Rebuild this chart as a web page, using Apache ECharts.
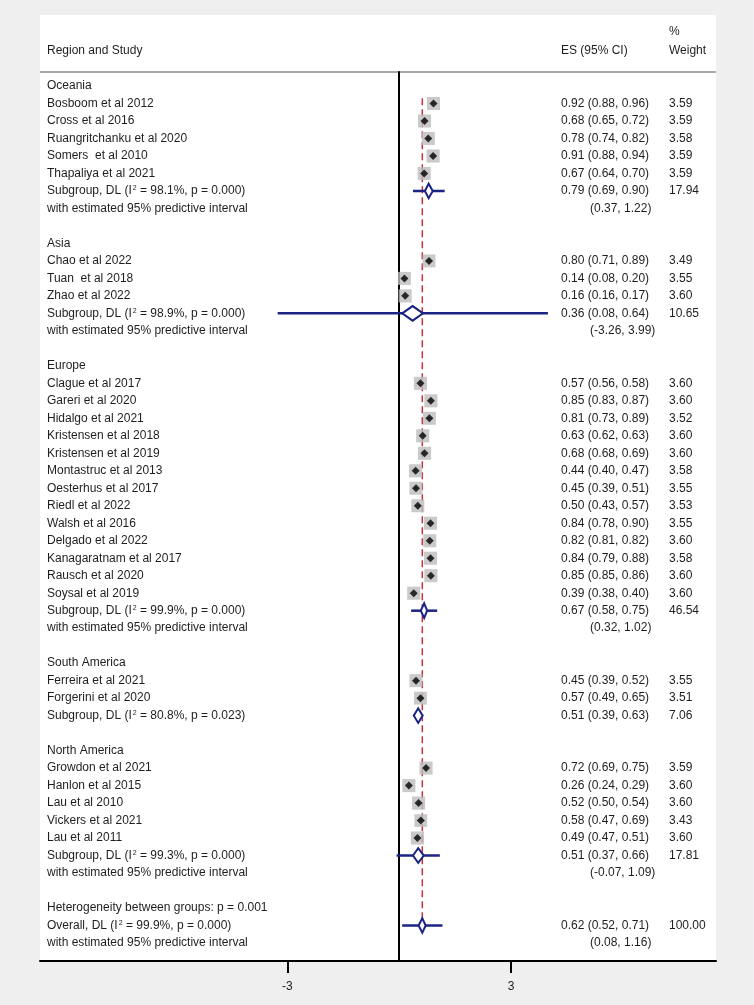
<!DOCTYPE html>
<html lang="en">
<head>
<meta charset="UTF-8">
<title>Forest plot</title>
<script src="https://cdn.jsdelivr.net/npm/echarts@6/dist/echarts.min.js"></script>
<style>
    html, body { margin: 0; padding: 0; background: #efefef; }
    .plot { width: 754px; height: 1005px; }
</style>
</head>
<body>
<div class="plot"></div>
<script>
    // regions, in the order they are listed
    var regions = ['Oceania', 'Asia', 'Europe', 'South America', 'North America']

    // single studies
    var studyNames = [
        'Bosboom et al 2012', 'Cross et al 2016', 'Ruangritchanku et al 2020', 'Somers  et al 2010', 'Thapaliya et al 2021',
        'Chao et al 2022', 'Tuan  et al 2018', 'Zhao et al 2022',
        'Clague et al 2017', 'Gareri et al 2020', 'Hidalgo et al 2021', 'Kristensen et al 2018', 'Kristensen et al 2019',
        'Montastruc et al 2013', 'Oesterhus et al 2017', 'Riedl et al 2022', 'Walsh et al 2016', 'Delgado et al 2022',
        'Kanagaratnam et al 2017', 'Rausch et al 2020', 'Soysal et al 2019',
        'Ferreira et al 2021', 'Forgerini et al 2020',
        'Growdon et al 2021', 'Hanlon et al 2015', 'Lau et al 2010', 'Vickers et al 2021', 'Lau et al 2011'
    ]
    var studyRegion = [0, 0, 0, 0, 0, 1, 1, 1, 2, 2, 2, 2, 2, 2, 2, 2, 2, 2, 2, 2, 2, 3, 3, 4, 4, 4, 4, 4]
    var studyES = [0.92, 0.68, 0.78, 0.91, 0.67, 0.80, 0.14, 0.16, 0.57, 0.85, 0.81, 0.63, 0.68, 0.44, 0.45, 0.50, 0.84, 0.82, 0.84, 0.85, 0.39, 0.45, 0.57, 0.72, 0.26, 0.52, 0.58, 0.49]
    var studyLo = [0.88, 0.65, 0.74, 0.88, 0.64, 0.71, 0.08, 0.16, 0.56, 0.83, 0.73, 0.62, 0.68, 0.40, 0.39, 0.43, 0.78, 0.81, 0.79, 0.85, 0.38, 0.39, 0.49, 0.69, 0.24, 0.50, 0.47, 0.47]
    var studyHi = [0.96, 0.72, 0.82, 0.94, 0.70, 0.89, 0.20, 0.17, 0.58, 0.87, 0.89, 0.63, 0.69, 0.47, 0.51, 0.57, 0.90, 0.82, 0.88, 0.86, 0.40, 0.52, 0.65, 0.75, 0.29, 0.54, 0.69, 0.51]
    var studyWeight = [3.59, 3.59, 3.58, 3.59, 3.59, 3.49, 3.55, 3.60, 3.60, 3.60, 3.52, 3.60, 3.60, 3.58, 3.55, 3.53, 3.55, 3.60, 3.58, 3.60, 3.60, 3.55, 3.51, 3.59, 3.60, 3.60, 3.43, 3.60]

    // pooled per region (DL)
    var subI2 = ['98.1%', '98.9%', '99.9%', '80.8%', '99.3%']
    var subP = ['0.000', '0.000', '0.000', '0.023', '0.000']
    var subES = [0.79, 0.36, 0.67, 0.51, 0.51]
    var subLo = [0.69, 0.08, 0.58, 0.39, 0.37]
    var subHi = [0.90, 0.64, 0.75, 0.63, 0.66]
    var subWeight = [17.94, 10.65, 46.54, 7.06, 17.81]
    var piLo = [0.37, -3.26, 0.32, null, -0.07]
    var piHi = [1.22, 3.99, 1.02, null, 1.09]

    // overall
    var hetP = '0.001'
    var overallI2 = '99.9%'
    var overallP = '0.000'
    var overallES = [0.62, 0.52, 0.71]   // es, lo, hi
    var overallPI = [0.08, 1.16]
    var overallWeight = 100

    var xTicks = [-3, 3]

    var font = 'Liberation Sans, Arial, sans-serif'
    var ink = '#1e1e1e'
    var navy = '#1b2383'

    function ci(a, b) {
        return '(' + a.toFixed(2) + ', ' + b.toFixed(2) + ')'
    }

    // build the table rows and the marks from the arrays above
    var rows = []
    var boxData = [], ciData = [], diamondData = []
    var piText = 'with estimated 95% predictive interval'

    regions.forEach(function (reg, r) {
        rows.push({ label: reg })
        studyNames.forEach(function (name, i) {
            if (studyRegion[i] !== r) return
            var y = rows.length
            rows.push({ label: name, es: studyES[i].toFixed(2) + ' ' + ci(studyLo[i], studyHi[i]), w: studyWeight[i].toFixed(2) })
            boxData.push([studyES[i], y, studyWeight[i]])
            ciData.push([studyLo[i], y, studyHi[i]])
        })
        var ys = rows.length
        rows.push({
            label: 'Subgroup, DL (I{sup|2} = ' + subI2[r] + ', p = ' + subP[r] + ')',
            es: subES[r].toFixed(2) + ' ' + ci(subLo[r], subHi[r]),
            w: subWeight[r].toFixed(2)
        })
        diamondData.push([subES[r], ys, subLo[r], subHi[r], piLo[r] == null ? '-' : piLo[r], piHi[r] == null ? '-' : piHi[r]])
        if (piLo[r] != null) rows.push({ label: piText, pi: ci(piLo[r], piHi[r]) })
        rows.push({ label: '' })
    })
    rows.push({ label: 'Heterogeneity between groups: p = ' + hetP })
    var yOverall = rows.length
    rows.push({
        label: 'Overall, DL (I{sup|2} = ' + overallI2 + ', p = ' + overallP + ')',
        es: overallES[0].toFixed(2) + ' ' + ci(overallES[1], overallES[2]),
        w: overallWeight.toFixed(2)
    })
    diamondData.push([overallES[0], yOverall, overallES[1], overallES[2], overallPI[0], overallPI[1]])
    rows.push({ label: piText, pi: ci(overallPI[0], overallPI[1]) })

    function idxWith(key) {
        var out = []
        rows.forEach(function (row, i) { if (row[key]) out.push(i) })
        return out
    }

    function textAxis(position, key, margin) {
        return {
            type: 'value', gridIndex: 0, position: position,
            min: -0.8005, max: 50.03, inverse: true,
            axisLine: { show: false, onZero: false },
            axisTick: { show: false },
            splitLine: { show: false },
            axisLabel: {
                inside: true, align: 'left', margin: margin,
                customValues: idxWith(key),
                formatter: function (v) { return rows[Math.round(v)][key] },
                color: ink, fontSize: 12, fontFamily: font,
                rich: { sup: { fontSize: 7, verticalAlign: 'top', padding: [0, 0, 5, 1], color: ink, fontFamily: font } }
            }
        }
    }

    function renderCI(params, api) {
        var a = api.coord([api.value(0), api.value(1)])
        var b = api.coord([api.value(2), api.value(1)])
        return { type: 'line', shape: { x1: a[0], y1: a[1], x2: b[0], y2: b[1] }, style: { stroke: '#000', lineWidth: 1 } }
    }

    function renderDiamond(params, api) {
        var y = api.value(1)
        var mid = api.coord([api.value(0), y])
        var lo = api.coord([api.value(2), y])
        var hi = api.coord([api.value(3), y])
        var h = 7.3
        var children = []
        if (!isNaN(api.value(4))) {
            var a = api.coord([api.value(4), y])
            var b = api.coord([api.value(5), y])
            children.push({ type: 'line', shape: { x1: a[0], y1: a[1], x2: b[0], y2: b[1] }, style: { stroke: navy, lineWidth: 2.5 } })
        }
        children.push({
            type: 'polygon',
            shape: { points: [[lo[0], mid[1]], [mid[0], mid[1] - h], [hi[0], mid[1]], [mid[0], mid[1] + h]] },
            style: { fill: '#fff', stroke: navy, lineWidth: 2 }
        })
        return { type: 'group', children: children }
    }

    var chart = echarts.init(document.querySelector('.plot'))

    var option = {
        animation: false,
        backgroundColor: '#efefef',
        grid: { left: 40, right: 38, top: 72, bottom: 44, containLabel: false, outerBoundsMode: 'none' },
        xAxis: [{
            type: 'value', gridIndex: 0, position: 'bottom',
            min: -9.635, max: 8.498,
            axisLine: { show: true, onZero: false, lineStyle: { color: '#000', width: 2 } },
            axisTick: { show: true, customValues: xTicks, length: 12, lineStyle: { color: '#000', width: 2 } },
            axisLabel: { customValues: xTicks, margin: 20, color: ink, fontSize: 12, fontFamily: font },
            splitLine: { show: false }
        }],
        yAxis: [
            {
                // the line at zero
                type: 'value', gridIndex: 0, min: -0.8005, max: 50.03, inverse: true,
                axisLine: { show: true, onZero: true, lineStyle: { color: '#000', width: 2 } },
                axisTick: { show: false }, axisLabel: { show: false }, splitLine: { show: false }
            },
            textAxis('left', 'label', 7),
            textAxis('right', 'es', 155),
            textAxis('right', 'pi', 126),
            textAxis('right', 'w', 47)
        ],
        graphic: [
            { type: 'rect', z: -10, shape: { x: 40, y: 15, width: 676, height: 946 }, style: { fill: '#fff' } },
            { type: 'line', shape: { x1: 40, y1: 72, x2: 716, y2: 72 }, style: { stroke: '#a8a8a8', lineWidth: 2 } },
            { type: 'text', x: 47, y: 51, style: { text: 'Region and Study', font: '12px ' + font, fill: ink, verticalAlign: 'middle' } },
            { type: 'text', x: 561, y: 51, style: { text: 'ES (95% CI)', font: '12px ' + font, fill: ink, verticalAlign: 'middle' } },
            { type: 'text', x: 669, y: 32, style: { text: '%', font: '12px ' + font, fill: ink, verticalAlign: 'middle' } },
            { type: 'text', x: 669, y: 51, style: { text: 'Weight', font: '12px ' + font, fill: ink, verticalAlign: 'middle' } }
        ],
        series: [
            {
                // overall effect reference line
                type: 'line', z: 1, symbol: 'none', silent: true,
                data: [[overallES[0], 0.7], [overallES[0], yOverall + 0.5]],
                lineStyle: { color: '#c8303c', width: 1.5, type: [7, 4] }
            },
            {
                type: 'custom', z: 2, renderItem: renderCI, data: ciData,
                encode: { x: [0, 2], y: 1 }
            },
            {
                type: 'scatter', z: 3, symbol: 'rect', data: boxData,
                symbolSize: function (v) { return 6.9 * Math.sqrt(v[2]) },
                itemStyle: { color: '#bdbdbd' }
            },
            {
                type: 'scatter', z: 4, symbol: 'diamond', symbolSize: 8, data: boxData,
                itemStyle: { color: '#000' }
            },
            {
                type: 'custom', z: 5, renderItem: renderDiamond, data: diamondData,
                encode: { x: [0, 2, 3], y: 1 }
            }
        ]
    }
    chart.setOption(option)
</script>
</body>
</html>
